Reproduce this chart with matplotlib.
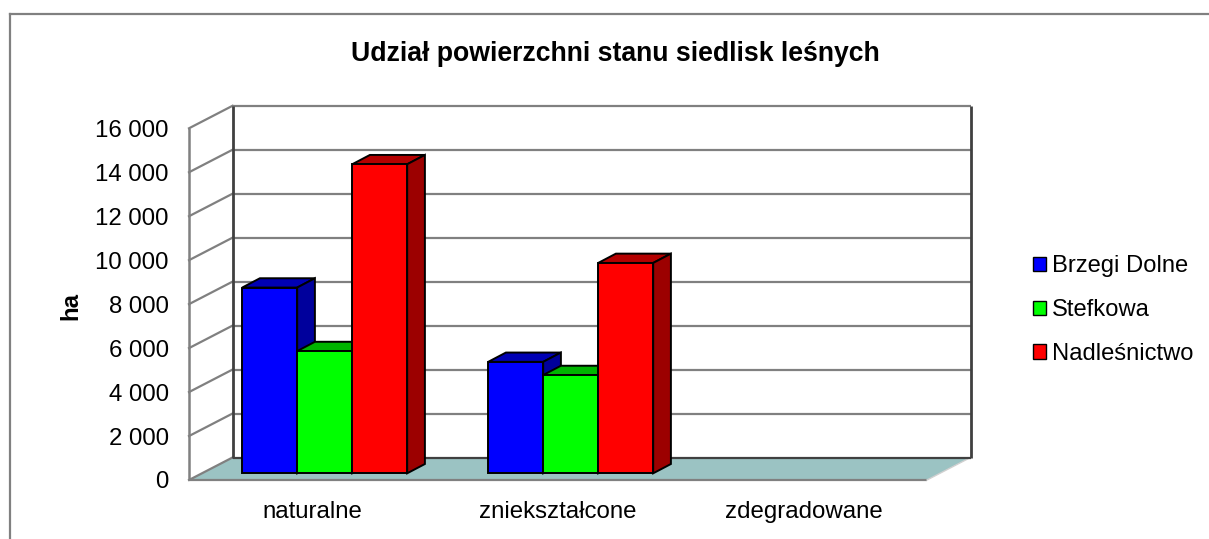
#3d style bar chart of forest habitat condition, drawn by hand on a flat axes
import matplotlib
matplotlib.use('Agg')
from matplotlib import pyplot as plt
from matplotlib.lines import Line2D
from matplotlib.patches import Polygon
from matplotlib.transforms import Affine2D, IdentityTransform

plt.rcParams['font.family'] = ['Liberation Sans', 'DejaVu Sans']

categories = ['naturalne', 'zniekształcone', 'zdegradowane']
brzegi_dolne = [8450, 5070, 0]
stefkowa = [5560, 4470, 0]
nadlesnictwo = [14060, 9570, 0]
series_names = ['Brzegi Dolne', 'Stefkowa', 'Nadleśnictwo']
y_ticks = [0, 2000, 4000, 6000, 8000, 10000, 12000, 14000, 16000]
y_labels = ['0', '2 000', '4 000', '6 000', '8 000', '10 000', '12 000', '14 000', '16 000']

W, H = 1209, 539
series = [brzegi_dolne, stefkowa, nadlesnictwo]
front_colors = ['#0000ff', '#00ff00', '#ff0000']
top_colors = ['#0000b4', '#00b400', '#b40000']
side_colors = ['#00009c', '#009c00', '#9c0000']
GRID = '#808080'
DARK = '#404040'
FONT = 17.3

fig = plt.figure(figsize=(W / 100, H / 100), dpi=100)
#front plane of the box, everything else is shifted from it in pixels
left, right, top, bottom = 189, 927, 128.3, 480
ax = fig.add_axes([left / W, 1 - bottom / H, (right - left) / W, (bottom - top) / H])
ax.set_xlim(0, 3)
ax.set_ylim(0, 16000)
ax.patch.set_visible(False)
for s in ax.spines.values():
    s.set_visible(False)


def shifted(dx, dy):
    return ax.transData + Affine2D().translate(dx, dy)


#depth of the box and of the bars, pixels
BOX_DX, BOX_DY = 43.5, 22.5
BAR_DX, BAR_DY = 12.7, 6.7
DEPTH_DX, DEPTH_DY = 17.7, 9.3
bar_width = 55 / 246

#floor
floor = [(0, 0), (BOX_DX, BOX_DY), (right - left + BOX_DX, BOX_DY), (right - left, 0)]
x0, y0 = ax.transData.transform((0, 0))
ax.add_patch(Polygon([(x0 + a, y0 + b) for a, b in floor], closed=True, facecolor='#9bc3c3',
                     edgecolor='none', transform=IdentityTransform(), zorder=0.5, clip_on=False))

#back wall and side wall grid
back = shifted(BOX_DX, BOX_DY)
ax.hlines(y_ticks[1:], 0, 3, color=GRID, linewidth=1.6, transform=back, zorder=1, clip_on=False)
ax.hlines([0], 0, 3, color=DARK, linewidth=1.6, transform=back, zorder=1.1, clip_on=False)
ax.vlines([0, 3], 0, 16000, color=DARK, linewidth=2.0, transform=back, zorder=1.1, clip_on=False)
ax.hlines([0], 0, 3, color=GRID, linewidth=1.6, zorder=1, clip_on=False)
ax.vlines([0], 0, 16000, color=GRID, linewidth=1.8, zorder=1, clip_on=False)
for v in y_ticks:
    xa, ya = ax.transData.transform((0, v))
    ax.add_line(Line2D([xa, xa + BOX_DX], [ya, ya + BOX_DY], color=GRID, linewidth=1.6,
                       transform=IdentityTransform(), zorder=1, clip_on=False))
xa, ya = ax.transData.transform((3, 0))
ax.add_line(Line2D([xa, xa + BOX_DX], [ya, ya + BOX_DY], color='#d0d0d0', linewidth=1,
                   transform=IdentityTransform(), zorder=1, clip_on=False))

#bars, left to right so the later ones cover the side of the earlier ones
bar_tr = shifted(BAR_DX, BAR_DY)
handles = []
for j in range(len(series)):
    xs = [i + 0.5 + (j - 1) * bar_width for i in range(len(categories))]
    z = 2 + j
    for x, v in zip(xs, series[j]):
        if v == 0:
            continue
        (xl, yb), (xr, yt) = bar_tr.transform([(x - bar_width / 2, 0), (x + bar_width / 2, v)])
        top_face = [(xl, yt), (xl + DEPTH_DX, yt + DEPTH_DY), (xr + DEPTH_DX, yt + DEPTH_DY), (xr, yt)]
        side_face = [(xr, yb), (xr, yt), (xr + DEPTH_DX, yt + DEPTH_DY), (xr + DEPTH_DX, yb + DEPTH_DY)]
        ax.add_patch(Polygon(top_face, closed=True, facecolor=top_colors[j], edgecolor='black',
                             linewidth=1.4, transform=IdentityTransform(), zorder=z, clip_on=False))
        ax.add_patch(Polygon(side_face, closed=True, facecolor=side_colors[j], edgecolor='black',
                             linewidth=1.4, transform=IdentityTransform(), zorder=z, clip_on=False))
    bars = ax.bar(xs, series[j], bar_width, color=front_colors[j], edgecolor='black', linewidth=1.4,
                  transform=bar_tr, zorder=z + 0.5, clip_on=False, label=series_names[j])
    #zero values leave no mark on the floor
    for rect, v in zip(bars, series[j]):
        rect.set_visible(v != 0)
    handles.append(bars)

ax.set_yticks(y_ticks)
ax.set_yticklabels(y_labels, fontsize=FONT, color='black')
ax.tick_params(axis='y', length=0, pad=14.5)
ax.set_xticks([i + 0.5 for i in range(len(categories))])
ax.set_xticklabels(categories, fontsize=FONT, color='black')
ax.tick_params(axis='x', length=0, pad=15)

fig.text(615 / W, 1 - 54 / H, 'Udział powierzchni stanu siedlisk leśnych', fontsize=19.2,
         fontweight='bold', ha='center', va='center')
fig.text(71 / W, 1 - 306 / H, 'ha', fontsize=FONT, fontweight='bold', rotation=90,
         ha='center', va='center')

leg = fig.legend(handles=handles, labels=series_names, loc='center left', bbox_to_anchor=(1033 / W, 1 - 310 / H),
                 frameon=False, fontsize=17.1, handlelength=0.54, handleheight=0.54,
                 handletextpad=0.27, labelspacing=0.92, borderpad=0, borderaxespad=0)
for h in leg.legend_handles:
    h.set_linewidth(1.0)

#chart border, only top and left are in the picture
fig.add_artist(Line2D([10 / W, 1], [1 - 14 / H, 1 - 14 / H], color=GRID, linewidth=1.6, transform=fig.transFigure))
fig.add_artist(Line2D([10 / W, 10 / W], [0, 1 - 14 / H], color=GRID, linewidth=1.6, transform=fig.transFigure))

fig.savefig('out.png', dpi=100)
